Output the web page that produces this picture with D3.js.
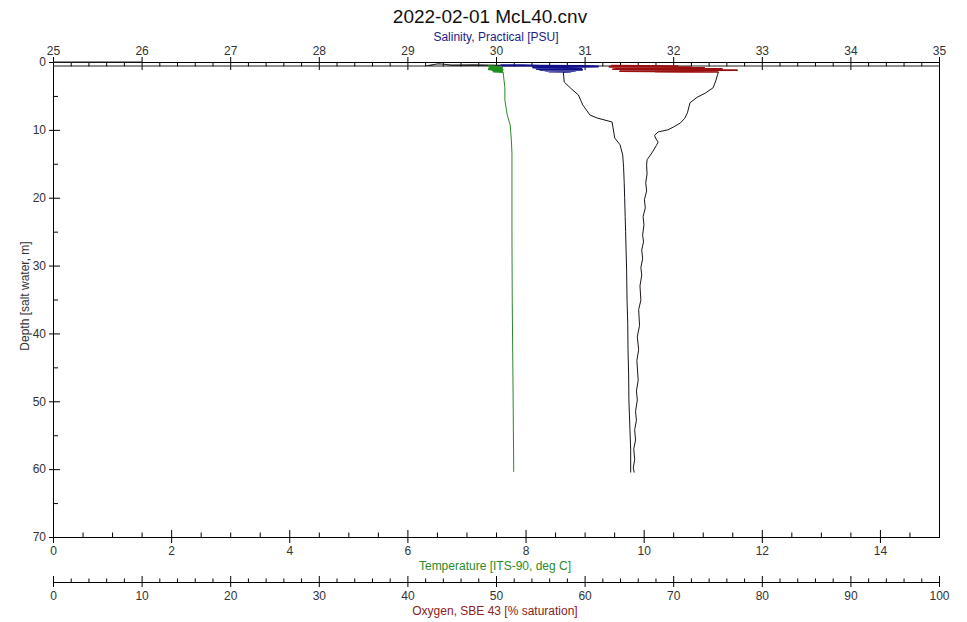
<!DOCTYPE html>
<html>
<head>
<meta charset="utf-8">
<script src="https://cdn.jsdelivr.net/npm/d3@7"></script>
<style>
    body { margin: 0; background: #fff; }
    svg { display: block; font-family: "Liberation Sans", Arial, sans-serif; }
</style>
</head>
<body>
<div id="profile_chart"></div>
<script>
const chartTitle = "2022-02-01 McL40.cnv";

// tick labels for the four axes
const salinityTicks = [25, 26, 27, 28, 29, 30, 31, 32, 33, 34, 35];
const temperatureTicks = [0, 2, 4, 6, 8, 10, 12, 14];
const oxygenTicks = [0, 10, 20, 30, 40, 50, 60, 70, 80, 90, 100];
const depthTicks = [0, 10, 20, 30, 40, 50, 60, 70];

// [depth m, value] - salinity before the sensor is wet (off scale)
const salinityAir = [
    [0.00, 0.00], [0.00, 26.00], [0.60, 0.00], [0.60, 40.00], [0.60, 29.20], [0.25, 29.35],
    [0.45, 29.50], [0.40, 29.75], [0.50, 30.05]
];

// [depth m, value] - surface soak, noisy
const temperatureSoak = [
    [0.60, 7.36], [0.75, 7.55], [0.70, 7.42], [0.85, 7.60], [0.90, 7.40], [1.00, 7.58],
    [1.05, 7.38], [1.15, 7.61], [1.20, 7.44], [1.30, 7.57], [1.38, 7.46], [1.47, 7.62]
];
const salinitySoak = [
    [0.50, 30.05], [0.48, 30.30], [0.55, 30.50], [0.62, 30.98], [0.66, 31.15], [0.74, 30.80],
    [0.80, 30.42], [0.85, 30.92], [0.92, 30.48], [0.95, 30.96], [1.00, 30.46], [1.05, 30.93],
    [1.10, 30.52], [1.13, 30.97], [1.18, 30.50], [1.22, 30.90], [1.28, 30.56], [1.32, 30.88],
    [1.38, 30.60], [1.42, 30.84], [1.47, 30.76]
];
const oxygenSoak = [
    [0.55, 63.0], [0.60, 70.5], [0.70, 62.8], [0.75, 72.0], [0.82, 63.5], [0.88, 73.5],
    [0.95, 64.5], [1.00, 75.5], [1.05, 63.2], [1.10, 72.8], [1.15, 65.0], [1.20, 77.2],
    [1.25, 66.0], [1.30, 74.0], [1.35, 64.0], [1.40, 71.0], [1.44, 68.0], [1.47, 75.1]
];

// [depth m, value] - downcast
const temperatureCast = [
    [1.47, 7.62], [3.8, 7.65], [5.6, 7.65], [7.8, 7.69], [9.3, 7.74], [11.5, 7.76],
    [13.4, 7.77], [15.2, 7.77], [25.0, 7.77], [35.1, 7.775], [49.8, 7.79], [60.4, 7.80]
];
const salinityCast = [
    [1.47, 30.76], [2.95, 30.77], [3.83, 30.84], [4.86, 30.93], [6.34, 30.98], [7.81, 31.06],
    [8.25, 31.14], [8.84, 31.31], [9.6, 31.32], [11.2, 31.34], [12.2, 31.40], [13.7, 31.43],
    [15.5, 31.44], [17.8, 31.447], [20.0, 31.452], [22.8, 31.458], [25.0, 31.463], [27.7, 31.468],
    [30.5, 31.474], [35.1, 31.479], [38.5, 31.487], [42.4, 31.49], [46.0, 31.497], [49.8, 31.50],
    [52.0, 31.506], [54.2, 31.512], [57.2, 31.52], [60.5, 31.52]
];
const oxygenCast = [
    [1.47, 75.1], [1.9, 75.0], [2.8, 74.8], [3.8, 74.5], [4.6, 73.6], [5.2, 72.7],
    [6.0, 71.9], [7.5, 71.6], [8.3, 71.3], [9.0, 70.8], [9.6, 70.0], [10.0, 69.4],
    [10.3, 68.3], [10.8, 67.9], [11.2, 68.0], [11.8, 68.3], [12.3, 68.1], [13.4, 67.6],
    [14.4, 67.05], [15.2, 67.0], [16.5, 67.05], [17.8, 66.9], [19.0, 67.0], [20.3, 66.75],
    [21.5, 66.85], [22.8, 66.6], [24.0, 66.7], [25.5, 66.55], [26.5, 66.65], [27.7, 66.45],
    [29.0, 66.55], [30.3, 66.35], [31.4, 66.45], [33.0, 66.25], [35.1, 66.35], [36.5, 66.1],
    [38.8, 66.2], [40.5, 65.95], [42.4, 66.1], [44.0, 65.9], [46.9, 66.05], [48.5, 65.85],
    [49.8, 65.95], [51.5, 65.75], [52.8, 65.85], [54.2, 65.65], [55.7, 65.75], [57.0, 65.55],
    [58.6, 65.65], [59.8, 65.5], [60.5, 65.6]
];

const chartElement = document.getElementById("profile_chart");
chartElement.append(profileChart());

function minorValues(lo, hi, step, majorStep) {
    const n = Math.round((hi - lo) / step);
    return d3.range(n + 1).map(i => +(lo + i * step).toFixed(3))
        .filter(v => Math.abs(v / majorStep - Math.round(v / majorStep)) > 1e-6);
}

function profileChart() {
    const width = 967;
    const height = 622;
    const left = 53, right = 939, top = 62, bottom = 537;
    const oxygenLine = 582;

    const y = d3.scaleLinear().domain([0, 70]).range([top, bottom]);
    const salX = d3.scaleLinear().domain([25, 35]).range([left, right]);
    const tempX = d3.scaleLinear().domain([0, 15]).range([left, right]);
    const oxyX = d3.scaleLinear().domain([0, 100]).range([left, right]);

    const svg = d3.create("svg")
        .attr("width", width)
        .attr("height", height)
        .attr("viewBox", [0, 0, width, height]);

    svg.append("rect").attr("width", width).attr("height", height).attr("fill", "#fff");

    svg.append("defs").append("clipPath").attr("id", "plot-clip")
        .append("rect")
        .attr("x", left).attr("y", top - 1)
        .attr("width", right - left).attr("height", bottom - top + 1);

    // frame
    svg.append("rect")
        .attr("x", left + 0.5).attr("y", top + 0.5)
        .attr("width", right - left).attr("height", bottom - top)
        .attr("fill", "none").attr("stroke", "#000");

    // titles
    svg.append("text")
        .attr("x", 490).attr("y", 23)
        .attr("text-anchor", "middle")
        .attr("font-size", 19)
        .attr("fill", "#111")
        .text(chartTitle);

    svg.append("text")
        .attr("x", 496).attr("y", 41)
        .attr("text-anchor", "middle")
        .attr("font-size", 12)
        .attr("fill", "#1c1c8c")
        .text("Salinity, Practical [PSU]");

    svg.append("text")
        .attr("x", 495).attr("y", 570)
        .attr("text-anchor", "middle")
        .attr("font-size", 12)
        .attr("fill", "#2a8a2a")
        .text("Temperature [ITS-90, deg C]");

    svg.append("text")
        .attr("x", 495).attr("y", 615)
        .attr("text-anchor", "middle")
        .attr("font-size", 12)
        .attr("fill", "#8a2020")
        .text("Oxygen, SBE 43 [% saturation]");

    svg.append("text")
        .attr("transform", "translate(29,296) rotate(-90)")
        .attr("text-anchor", "middle")
        .attr("font-size", 12)
        .attr("fill", "#333")
        .text("Depth [salt water, m]");

    const styleAxis = g => {
        g.select(".domain").remove();
        g.selectAll(".tick text").attr("font-size", 12).attr("font-family", null).attr("fill", "#333");
        g.selectAll(".tick line").attr("stroke", "#000");
    };

    // salinity (top)
    svg.append("g")
        .attr("transform", `translate(0,${top})`)
        .call(d3.axisTop(salX).tickValues(salinityTicks).tickSize(5).tickPadding(2).tickFormat(d3.format("d")))
        .call(styleAxis)
        .call(g => g.selectAll(".tick line").attr("y1", 8));
    svg.append("g")
        .attr("transform", `translate(0,${top})`)
        .call(d3.axisTop(salX).tickValues(minorValues(25, 35, 0.2, 1)).tickSize(-4.5).tickFormat(""))
        .call(styleAxis);

    // temperature (bottom of frame)
    svg.append("g")
        .attr("transform", `translate(0,${bottom})`)
        .call(d3.axisBottom(tempX).tickValues(temperatureTicks).tickSize(6).tickPadding(3.5).tickFormat(d3.format("d")))
        .call(styleAxis)
        .call(g => g.selectAll(".tick line").attr("y1", -7));
    svg.append("g")
        .attr("transform", `translate(0,${bottom})`)
        .call(d3.axisBottom(tempX).tickValues(minorValues(0, 14.5, 0.5, 2)).tickSize(-4.5).tickFormat(""))
        .call(styleAxis);

    // oxygen (separate axis below)
    svg.append("g")
        .attr("transform", `translate(0,${oxygenLine})`)
        .call(d3.axisBottom(oxyX).tickValues(oxygenTicks).tickSize(5).tickPadding(4.5).tickFormat(d3.format("d")))
        .call(g => g.select(".domain").attr("d", `M${left + 0.5},0.5H${right + 0.5}`).attr("stroke", "#000"))
        .call(g => g.selectAll(".tick text").attr("font-size", 12).attr("font-family", null).attr("fill", "#333"))
        .call(g => g.selectAll(".tick line").attr("stroke", "#000").attr("y1", -6));
    svg.append("g")
        .attr("transform", `translate(0,${oxygenLine})`)
        .call(d3.axisBottom(oxyX).tickValues(minorValues(0, 100, 2, 10)).tickSize(-3.5).tickFormat(""))
        .call(styleAxis);

    // depth (left)
    svg.append("g")
        .attr("transform", `translate(${left},0)`)
        .call(d3.axisLeft(y).tickValues(depthTicks).tickSize(4).tickPadding(3).tickFormat(d3.format("d")))
        .call(styleAxis)
        .call(g => g.selectAll(".tick line").attr("x1", 7));
    svg.append("g")
        .attr("transform", `translate(${left},0)`)
        .call(d3.axisLeft(y).tickValues(minorValues(0, 70, 5, 10)).tickSize(-5).tickFormat(""))
        .call(styleAxis);

    // traces
    const plot = svg.append("g").attr("clip-path", "url(#plot-clip)");
    const trace = (data, x, color, w) => plot.append("path")
        .datum(data)
        .attr("fill", "none")
        .attr("stroke", color)
        .attr("stroke-width", w)
        .attr("stroke-linejoin", "round")
        .attr("d", d3.line().x(d => x(d[1])).y(d => y(d[0])));

    trace(salinityAir, salX, "#222", 1.1);
    trace(salinitySoak, salX, "#10108a", 2.2);
    trace(oxygenSoak, oxyX, "#9a1010", 1.8);
    trace(temperatureSoak, tempX, "#1f8f1f", 2.2);

    trace(temperatureCast, tempX, "#2a8a2a", 1);
    trace(salinityCast, salX, "#14141e", 1);
    trace(oxygenCast, oxyX, "#1e1414", 1);

    return svg.node();
}
</script>
</body>
</html>
